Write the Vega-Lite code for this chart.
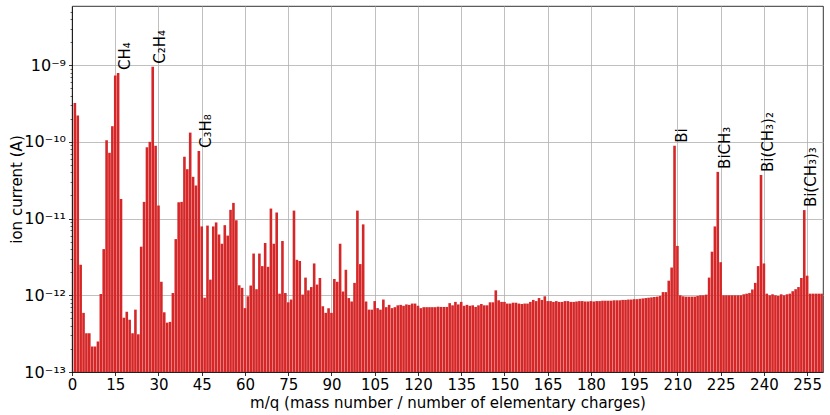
{
  "$schema": "https://vega.github.io/schema/vega-lite/v6.json",
  "width": 751,
  "height": 366,
  "autosize": "none",
  "padding": {"left": 72, "top": 6, "right": 7, "bottom": 43},
  "config": {
    "font": "DejaVu Sans",
    "view": {"stroke": "black", "strokeWidth": 0.8},
    "axis": {
      "zindex": 1,
      "domain": true,
      "domainColor": "black",
      "domainWidth": 0.8,
      "grid": true,
      "gridColor": "#b0b0b0",
      "gridWidth": 0.8,
      "tickColor": "black",
      "tickWidth": 0.8,
      "tickSize": 3.5,
      "labelColor": "black",
      "labelFont": "DejaVu Sans",
      "labelFontSize": 15,
      "titleFont": "DejaVu Sans",
      "titleFontSize": 15,
      "titleFontWeight": "normal",
      "titleColor": "black"
    }
  },
  "datasets": {
    "spectrum": [
      {"m":1,"v":3.2e-10},{"m":2,"v":2.2e-10},{"m":3,"v":2.5e-12},{"m":4,"v":5.9e-13},{"m":5,"v":3.2e-13},
      {"m":6,"v":3.2e-13},{"m":7,"v":2.15e-13},{"m":8,"v":2.15e-13},{"m":9,"v":2.5e-13},{"m":10,"v":1.04e-12},
      {"m":11,"v":4.0e-12},{"m":12,"v":1.05e-10},{"m":13,"v":7.2e-11},{"m":14,"v":1.6e-10},{"m":15,"v":7.3e-10},
      {"m":16,"v":7.9e-10},{"m":17,"v":1.8e-11},{"m":18,"v":5.1e-13},{"m":19,"v":6.1e-13},{"m":20,"v":4.8e-13},
      {"m":21,"v":3.2e-13},{"m":22,"v":6.5e-13},{"m":23,"v":3.1e-13},{"m":24,"v":4.3e-12},{"m":25,"v":1.65e-11},
      {"m":26,"v":8.5e-11},{"m":27,"v":1.0e-10},{"m":28,"v":9.5e-10},{"m":29,"v":8.9e-11},{"m":30,"v":1.48e-11},
      {"m":31,"v":1.5e-12},{"m":32,"v":6.0e-13},{"m":33,"v":4.4e-13},{"m":34,"v":4.5e-13},{"m":35,"v":1.07e-12},
      {"m":36,"v":5.4e-12},{"m":37,"v":1.63e-11},{"m":38,"v":1.65e-11},{"m":39,"v":6.4e-11},{"m":40,"v":4.4e-11},
      {"m":41,"v":1.32e-10},{"m":42,"v":3.5e-11},{"m":43,"v":2.7e-11},{"m":44,"v":7.6e-11},{"m":45,"v":7.9e-12},
      {"m":46,"v":9.3e-13},{"m":47,"v":8.1e-12},{"m":48,"v":1.6e-12},{"m":49,"v":7.9e-12},{"m":50,"v":8.9e-12},
      {"m":51,"v":6.2e-12},{"m":52,"v":4.7e-12},{"m":53,"v":8.2e-12},{"m":54,"v":6.0e-12},{"m":55,"v":1.3e-11},
      {"m":56,"v":1.6e-11},{"m":57,"v":9.5e-12},{"m":58,"v":1.35e-12},{"m":59,"v":1.25e-12},{"m":60,"v":6.8e-13},
      {"m":61,"v":9.7e-13},{"m":62,"v":1.34e-12},{"m":63,"v":3.5e-12},{"m":64,"v":1.2e-12},{"m":65,"v":3.5e-12},
      {"m":66,"v":2.4e-12},{"m":67,"v":4.8e-12},{"m":68,"v":2.35e-12},{"m":69,"v":1.35e-11},{"m":70,"v":4.7e-12},
      {"m":71,"v":1.2e-11},{"m":72,"v":1.05e-12},{"m":73,"v":5.1e-12},{"m":74,"v":1.07e-12},{"m":75,"v":8.1e-13},
      {"m":76,"v":8.8e-13},{"m":77,"v":1.27e-11},{"m":78,"v":2.9e-12},{"m":79,"v":2.8e-12},{"m":80,"v":1.02e-12},
      {"m":81,"v":1.7e-12},{"m":82,"v":1.16e-12},{"m":83,"v":1.28e-12},{"m":84,"v":2.6e-12},{"m":85,"v":1.38e-12},
      {"m":86,"v":1.68e-12},{"m":87,"v":7.2e-13},{"m":88,"v":5.9e-13},{"m":89,"v":6.8e-13},{"m":90,"v":5.9e-13},
      {"m":91,"v":1.63e-12},{"m":92,"v":1.5e-12},{"m":93,"v":4.7e-12},{"m":94,"v":1.12e-12},{"m":95,"v":2.15e-12},
      {"m":96,"v":9.2e-13},{"m":97,"v":8.3e-13},{"m":98,"v":1.45e-12},{"m":99,"v":1.27e-11},{"m":100,"v":2.55e-12},
      {"m":101,"v":8.4e-12},{"m":102,"v":8.3e-13},{"m":103,"v":6.5e-13},{"m":104,"v":6.5e-13},{"m":105,"v":8.4e-13},
      {"m":106,"v":6.8e-13},{"m":107,"v":6.5e-13},{"m":108,"v":8.8e-13},{"m":109,"v":7.0e-13},{"m":110,"v":7.5e-13},
      {"m":111,"v":6.8e-13},{"m":112,"v":7.0e-13},{"m":113,"v":7.4e-13},{"m":114,"v":7.5e-13},{"m":115,"v":7.3e-13},
      {"m":116,"v":7.6e-13},{"m":117,"v":7.5e-13},{"m":118,"v":7.8e-13},{"m":119,"v":7.8e-13},{"m":120,"v":7.3e-13},
      {"m":121,"v":6.8e-13},{"m":122,"v":7.0e-13},{"m":123,"v":7.0e-13},{"m":124,"v":7.0e-13},{"m":125,"v":7.0e-13},
      {"m":126,"v":7.0e-13},{"m":127,"v":7.1e-13},{"m":128,"v":7.05e-13},{"m":129,"v":7.05e-13},{"m":130,"v":7.05e-13},
      {"m":131,"v":7.9e-13},{"m":132,"v":7.4e-13},{"m":133,"v":8.2e-13},{"m":134,"v":7.6e-13},{"m":135,"v":8.2e-13},
      {"m":136,"v":7.3e-13},{"m":137,"v":7.5e-13},{"m":138,"v":7.3e-13},{"m":139,"v":7.4e-13},{"m":140,"v":7.05e-13},
      {"m":141,"v":7.4e-13},{"m":142,"v":7.7e-13},{"m":143,"v":7.4e-13},{"m":144,"v":7.4e-13},{"m":145,"v":8.1e-13},
      {"m":146,"v":8.1e-13},{"m":147,"v":1.16e-12},{"m":148,"v":8.6e-13},{"m":149,"v":8.2e-13},{"m":150,"v":8.2e-13},
      {"m":151,"v":7.8e-13},{"m":152,"v":7.8e-13},{"m":153,"v":8.0e-13},{"m":154,"v":8.0e-13},{"m":155,"v":7.8e-13},
      {"m":156,"v":7.7e-13},{"m":157,"v":7.8e-13},{"m":158,"v":7.8e-13},{"m":159,"v":8.2e-13},{"m":160,"v":8.7e-13},
      {"m":161,"v":8.4e-13},{"m":162,"v":9.2e-13},{"m":163,"v":8.7e-13},{"m":164,"v":9.7e-13},{"m":165,"v":8.4e-13},
      {"m":166,"v":8.4e-13},{"m":167,"v":8.2e-13},{"m":168,"v":8.4e-13},{"m":169,"v":8.2e-13},{"m":170,"v":8.2e-13},
      {"m":171,"v":8.4e-13},{"m":172,"v":8.4e-13},{"m":173,"v":8.2e-13},{"m":174,"v":8.2e-13},{"m":175,"v":8.3e-13},
      {"m":176,"v":8.4e-13},{"m":177,"v":8.4e-13},{"m":178,"v":8.3e-13},{"m":179,"v":8.3e-13},{"m":180,"v":8.4e-13},
      {"m":181,"v":8.3e-13},{"m":182,"v":8.4e-13},{"m":183,"v":8.4e-13},{"m":184,"v":8.5e-13},{"m":185,"v":8.5e-13},
      {"m":186,"v":8.5e-13},{"m":187,"v":8.5e-13},{"m":188,"v":8.6e-13},{"m":189,"v":8.6e-13},{"m":190,"v":8.6e-13},
      {"m":191,"v":8.7e-13},{"m":192,"v":8.7e-13},{"m":193,"v":8.8e-13},{"m":194,"v":8.8e-13},{"m":195,"v":8.9e-13},
      {"m":196,"v":8.9e-13},{"m":197,"v":9.0e-13},{"m":198,"v":9.1e-13},{"m":199,"v":9.2e-13},{"m":200,"v":9.3e-13},
      {"m":201,"v":9.4e-13},{"m":202,"v":9.5e-13},{"m":203,"v":9.6e-13},{"m":204,"v":9.8e-13},{"m":205,"v":1.1e-12},
      {"m":206,"v":1.1e-12},{"m":207,"v":1.55e-12},{"m":208,"v":2.3e-12},{"m":209,"v":8.9e-11},{"m":210,"v":4.4e-12},
      {"m":211,"v":1.0e-12},{"m":212,"v":9.7e-13},{"m":213,"v":9.6e-13},{"m":214,"v":9.6e-13},{"m":215,"v":9.6e-13},
      {"m":216,"v":9.6e-13},{"m":217,"v":9.8e-13},{"m":218,"v":1.0e-12},{"m":219,"v":1.0e-12},{"m":220,"v":1.02e-12},
      {"m":221,"v":1.7e-12},{"m":222,"v":3.7e-12},{"m":223,"v":7.9e-12},{"m":224,"v":4.06e-11},{"m":225,"v":2.7e-12},
      {"m":226,"v":1.0e-12},{"m":227,"v":1.0e-12},{"m":228,"v":1.0e-12},{"m":229,"v":1.0e-12},{"m":230,"v":1.0e-12},
      {"m":231,"v":1.0e-12},{"m":232,"v":1.0e-12},{"m":233,"v":1.03e-12},{"m":234,"v":1.05e-12},{"m":235,"v":1.07e-12},
      {"m":236,"v":1.19e-12},{"m":237,"v":1.45e-12},{"m":238,"v":2.4e-12},{"m":239,"v":3.7e-11},{"m":240,"v":2.6e-12},
      {"m":241,"v":1.05e-12},{"m":242,"v":1.0e-12},{"m":243,"v":1.03e-12},{"m":244,"v":1.0e-12},{"m":245,"v":9.8e-13},
      {"m":246,"v":1.03e-12},{"m":247,"v":1.0e-12},{"m":248,"v":1.03e-12},{"m":249,"v":1.05e-12},{"m":250,"v":1.13e-12},
      {"m":251,"v":1.2e-12},{"m":252,"v":1.28e-12},{"m":253,"v":1.68e-12},{"m":254,"v":1.29e-11},{"m":255,"v":1.8e-12},
      {"m":256,"v":1.05e-12},{"m":257,"v":1.05e-12},{"m":258,"v":1.05e-12},{"m":259,"v":1.05e-12},{"m":260,"v":1.05e-12}
    ],
    "labels": [
      {"m":16,"v":7.9e-10,"label":"CH₄"},
      {"m":28,"v":9.5e-10,"label":"C₂H₄"},
      {"m":44,"v":7.6e-11,"label":"C₃H₈"},
      {"m":209,"v":8.9e-11,"label":"Bi"},
      {"m":224,"v":4.06e-11,"label":"BiCH₃"},
      {"m":239,"v":3.7e-11,"label":"Bi(CH₃)₂"},
      {"m":254,"v":1.29e-11,"label":"Bi(CH₃)₃"}
    ]
  },
  "encoding": {
    "x": {
      "field": "m",
      "type": "quantitative",
      "scale": {"domain": [0, 260.5], "nice": false, "zero": false, "padding": 0},
      "axis": {
        "title": "m/q (mass number / number of elementary charges)",
        "values": [0,15,30,45,60,75,90,105,120,135,150,165,180,195,210,225,240,255],
        "labelPadding": 2,
        "titlePadding": 3,
        "labelFlush": false
      }
    },
    "y": {
      "field": "v",
      "type": "quantitative",
      "scale": {"type": "log", "domain": [1e-13, 5.9e-9], "nice": false, "padding": 0},
      "axis": {
        "title": "ion current (A)",
        "titlePadding": -1,
        "labelPadding": 3,
        "labelFontSize": 16,
        "values": [1e-13,2e-13,3e-13,4e-13,5e-13,6e-13,7e-13,8e-13,9e-13,
                   1e-12,2e-12,3e-12,4e-12,5e-12,6e-12,7e-12,8e-12,9e-12,
                   1e-11,2e-11,3e-11,4e-11,5e-11,6e-11,7e-11,8e-11,9e-11,
                   1e-10,2e-10,3e-10,4e-10,5e-10,6e-10,7e-10,8e-10,9e-10,
                   1e-9,2e-9,3e-9,4e-9,5e-9],
        "labelExpr": "abs(log(datum.value)/LN10 - round(log(datum.value)/LN10)) < 0.01 ? (round(log(datum.value)/LN10) == -9 ? '10⁻⁹' : round(log(datum.value)/LN10) == -10 ? '10⁻¹⁰' : round(log(datum.value)/LN10) == -11 ? '10⁻¹¹' : round(log(datum.value)/LN10) == -12 ? '10⁻¹²' : '10⁻¹³') : ''",
        "tickSize": {"condition": {"test": "abs(log(datum.value)/LN10 - round(log(datum.value)/LN10)) < 0.01", "value": 3.5}, "value": 2},
        "tickWidth": {"condition": {"test": "abs(log(datum.value)/LN10 - round(log(datum.value)/LN10)) < 0.01", "value": 0.8}, "value": 0.6},
        "gridOpacity": {"condition": {"test": "abs(log(datum.value)/LN10 - round(log(datum.value)/LN10)) < 0.01", "value": 1}, "value": 0}
      }
    }
  },
  "layer": [
    {
      "data": {"name": "spectrum"},
      "mark": {"type": "bar", "color": "#d62728", "size": 2.6, "clip": true},
      "encoding": {
        "y2": {"datum": 1e-13}
      }
    },
    {
      "data": {"name": "labels"},
      "mark": {"type": "text", "angle": 270, "align": "left", "baseline": "top", "dx": 3, "fontSize": 15, "font": "DejaVu Sans", "color": "black"},
      "encoding": {
        "text": {"field": "label"}
      }
    }
  ]
}
